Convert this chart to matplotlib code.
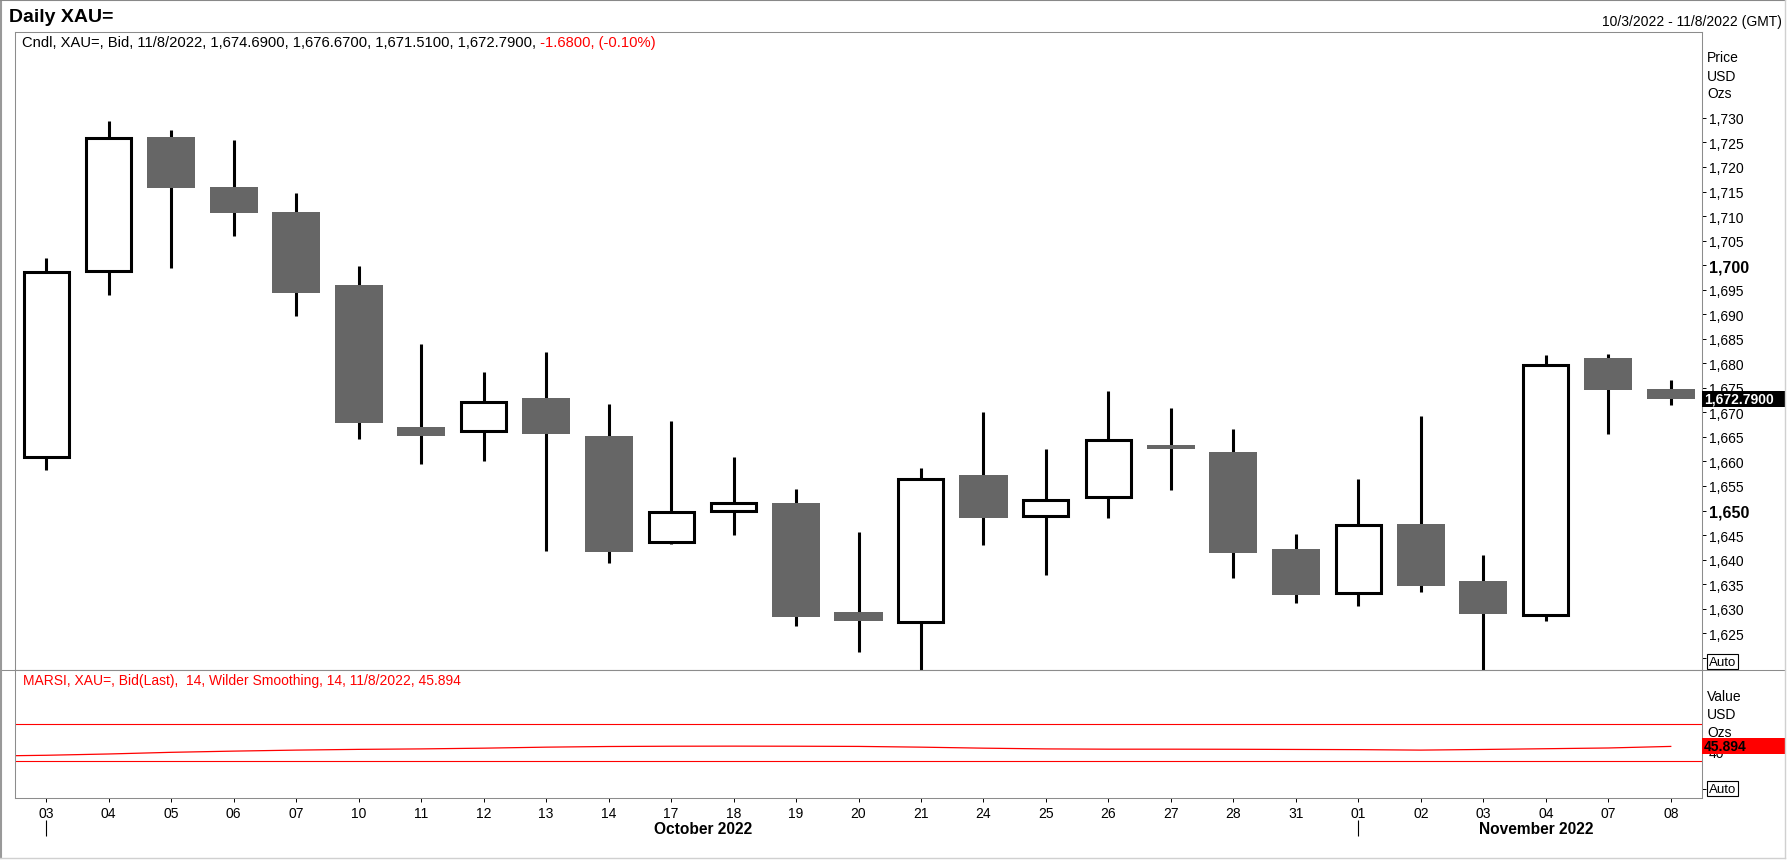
import numpy as np
import pandas as pd
import matplotlib
matplotlib.use("Agg")
import matplotlib.pyplot as plt
from matplotlib.lines import Line2D
from matplotlib.patches import Rectangle

# daily XAU= bid candles, 10/3/2022 - 11/8/2022
dates = ['2022-10-03', '2022-10-04', '2022-10-05', '2022-10-06', '2022-10-07',
         '2022-10-10', '2022-10-11', '2022-10-12', '2022-10-13', '2022-10-14',
         '2022-10-17', '2022-10-18', '2022-10-19', '2022-10-20', '2022-10-21',
         '2022-10-24', '2022-10-25', '2022-10-26', '2022-10-27', '2022-10-28',
         '2022-10-31', '2022-11-01', '2022-11-02', '2022-11-03', '2022-11-04',
         '2022-11-07', '2022-11-08']
opens = [1660.9, 1698.9, 1726.1, 1715.9, 1710.8, 1695.9, 1667.1, 1666.2, 1672.9,
         1665.1, 1643.5, 1650.0, 1651.5, 1629.3, 1627.2, 1657.2, 1648.8, 1652.8,
         1663.3, 1661.9, 1642.1, 1633.2, 1647.2, 1635.7, 1628.7, 1681.0, 1674.69]
highs = [1701.4, 1729.4, 1727.6, 1725.5, 1714.7, 1699.8, 1683.9, 1678.2, 1682.3,
         1671.7, 1668.2, 1660.9, 1654.3, 1645.6, 1658.6, 1670.0, 1662.6, 1674.3,
         1670.8, 1666.6, 1645.3, 1656.5, 1669.2, 1641.0, 1681.6, 1681.8, 1676.67]
lows = [1658.2, 1693.9, 1699.4, 1706.0, 1689.6, 1664.5, 1659.4, 1660.1, 1641.8,
        1639.3, 1643.2, 1645.0, 1626.5, 1621.1, 1617.3, 1642.9, 1636.9, 1648.4,
        1654.2, 1636.2, 1631.1, 1630.6, 1633.4, 1616.7, 1627.4, 1665.6, 1671.51]
closes = [1698.5, 1725.8, 1715.7, 1710.6, 1694.3, 1667.8, 1665.2, 1672.2, 1665.5,
          1641.6, 1649.7, 1651.6, 1628.2, 1627.4, 1656.5, 1648.4, 1652.1, 1664.3,
          1662.6, 1641.4, 1632.7, 1647.0, 1634.6, 1629.0, 1679.7, 1674.47, 1672.79]

# MARSI (14, Wilder smoothing, 14)
rsi_prev = 35.4
rsi = [36.3, 37.7, 39.5, 40.8, 41.9, 42.7, 43.2, 44.0, 45.1, 45.8, 46.1, 46.2,
       46.1, 45.9, 45.1, 44.0, 43.2, 42.9, 42.9, 42.8, 42.6, 42.4, 41.9, 42.6,
       43.4, 44.2, 45.894]
rsi_levels = [70, 30]

price_ticks = list(range(1620, 1731, 5))
rsi_ticks = [0, 40]

W, H = 1788, 862
GRAY = '#8c8c8c'
plt.rcParams['font.family'] = ['Liberation Sans', 'DejaVu Sans']


def fx(px):
    return px / W


def fy(py):
    return 1 - py / H


fig = plt.figure(figsize=(W / 100, H / 100), dpi=100)
fig.patch.set_facecolor('white')

L, R, T, MID, B = 15, 1702, 33, 671, 799
ax_p = fig.add_axes([fx(L), fy(MID), fx(R) - fx(L), fy(T) - fy(MID)])
ax_r = fig.add_axes([fx(L), fy(B), fx(R) - fx(L), fy(MID) - fy(B)])
box_w = (1785 - R) / (R - L)

x = np.arange(len(dates))
o, h, l, c = map(np.array, (opens, highs, lows, closes))
up = c >= o

# candles
ax_p.vlines(x, l, h, color='black', lw=2.2, zorder=2)
ax_p.bar(x[up], (c - o)[up], bottom=o[up], width=0.72, facecolor='white',
         edgecolor='black', linewidth=2.2, zorder=3)
ax_p.bar(x[~up], (o - c)[~up], bottom=c[~up], width=0.77, color='#666666',
         linewidth=0, zorder=3)

ax_p.set_xlim(-0.5, len(dates) - 0.5)
ax_p.set_ylim(1617.5, 1747.5)
ax_p.yaxis.tick_right()
ax_p.set_yticks(price_ticks)
ax_p.set_yticklabels(['' if v == 1620 else f'{v:,}' for v in price_ticks])
ax_p.tick_params(axis='y', direction='out', length=3.2, width=0.7, colors='black',
                 labelsize=10, pad=1.5)
for v, lab in zip(price_ticks, ax_p.get_yticklabels()):
    if v % 50 == 0:
        lab.set_fontweight('bold')
        lab.set_fontsize(11.5)
ax_p.tick_params(axis='x', bottom=False, labelbottom=False)

# RSI panel
ax_r.set_xlim(-0.5, len(dates) - 0.5)
ax_r.set_ylim(-10, 128.7)
for lv in rsi_levels:
    ax_r.axhline(lv, color='red', lw=0.8)
ax_r.plot(np.r_[-1, x], np.r_[rsi_prev, rsi], color='red', lw=0.9)
ax_r.yaxis.tick_right()
ax_r.set_yticks(rsi_ticks)
ax_r.set_yticklabels(['' if v == 0 else str(v) for v in rsi_ticks])
ax_r.tick_params(axis='y', direction='out', length=3.2, width=0.7, colors='black',
                 labelsize=10, pad=1.5)
days = pd.to_datetime(dates).strftime('%d')
ax_r.set_xticks(x)
ax_r.set_xticklabels(days)
ax_r.tick_params(axis='x', direction='out', length=3, width=0.7, colors='black',
                 labelsize=10, pad=3)

for ax in (ax_p, ax_r):
    for sp in ax.spines.values():
        sp.set_color(GRAY)
        sp.set_linewidth(0.75)

# month separators and labels
months = pd.to_datetime(dates).month
month_starts = [i for i in range(len(dates)) if i == 0 or months[i] != months[i - 1]]
ax_r.vlines(month_starts, -0.17, -0.30, transform=ax_r.get_xaxis_transform(),
            clip_on=False, color='black', lw=0.8)
fig.text(fx(703), fy(830), 'October 2022', fontsize=11.2, fontweight='bold',
         ha='center', va='center')
fig.text(fx(1536), fy(830), 'November 2022', fontsize=11.2, fontweight='bold',
         ha='center', va='center')

# frame lines
fig.add_artist(Line2D([0, fx(1785)], [fy(MID), fy(MID)], color=GRAY, lw=0.75))
fig.add_artist(Line2D([fx(1), fx(1)], [fy(0), fy(859)], color='#999999', lw=1.5))
fig.add_artist(Line2D([0, fx(1785)], [fy(1), fy(1)], color='#888888', lw=1.5))
fig.add_artist(Line2D([fx(1785), fx(1785)], [fy(0), fy(859)], color='#d0d0d0', lw=1))
fig.add_artist(Line2D([0, fx(1785)], [fy(859), fy(859)], color='#d0d0d0', lw=1))

# headers
fig.text(fx(9), fy(17), 'Daily XAU=', fontsize=14, fontweight='bold', va='center')
fig.text(fx(1782), fy(22), '10/3/2022 - 11/8/2022 (GMT)', fontsize=10,
         ha='right', va='center')
chg = closes[-1] - closes[-2]
pct = chg / closes[-2] * 100
head = (f"Cndl, XAU=, Bid, 11/8/2022, {opens[-1]:,.4f}, {highs[-1]:,.4f}, "
        f"{lows[-1]:,.4f}, {closes[-1]:,.4f},")
t1 = fig.text(fx(22), fy(43), head, fontsize=10.6, va='center')
ax_p.annotate(f" {chg:.4f}, ({pct:.2f}%)", xy=(1, 0.5), xycoords=t1,
              va='center', ha='left', fontsize=10.6, color='red',
              annotation_clip=False)

ax_r.text(0.005, 0.92, f"MARSI, XAU=, Bid(Last),  14, Wilder Smoothing, 14, 11/8/2022, {rsi[-1]}",
          transform=ax_r.transAxes, fontsize=10, color='red', va='center')

for yy, s in zip([58, 77, 94], ['Price', 'USD', 'Ozs']):
    fig.text(fx(1707), fy(yy), s, fontsize=10, va='center')
for yy, s in zip([697, 715, 733], ['Value', 'USD', 'Ozs']):
    fig.text(fx(1707), fy(yy), s, fontsize=10, va='center')

# last value boxes
ty_p = ax_p.get_yaxis_transform()
ax_p.add_patch(Rectangle((1.0, closes[-1] - 1.6), box_w, 3.2, transform=ty_p,
                         clip_on=False, facecolor='black', zorder=5))
ax_p.text(1.001, closes[-1], f'{closes[-1]:,.4f}', transform=ty_p, color='white',
          fontsize=10, fontweight='bold', va='center', zorder=6)
ty_r = ax_r.get_yaxis_transform()
ax_r.add_patch(Rectangle((1.0, rsi[-1] - 8.0), box_w, 17, transform=ty_r,
                         clip_on=False, facecolor='red', zorder=5))
ax_r.text(1.001, rsi[-1] + 0.5, f'{rsi[-1]}', transform=ty_r, color='black',
          fontsize=10, fontweight='bold', va='center', zorder=6)

# Auto boxes
auto_kw = dict(fontsize=9.5, va='center', ha='left',
               bbox=dict(boxstyle='square,pad=0.12', fc='white', ec='black', lw=0.8))
ax_p.text(1 + 7 / (R - L), 1619.2, 'Auto', transform=ty_p, **auto_kw)
ax_r.text(1 + 7 / (R - L), 0, 'Auto', transform=ty_r, **auto_kw)

fig.savefig('out.png', dpi=100)
